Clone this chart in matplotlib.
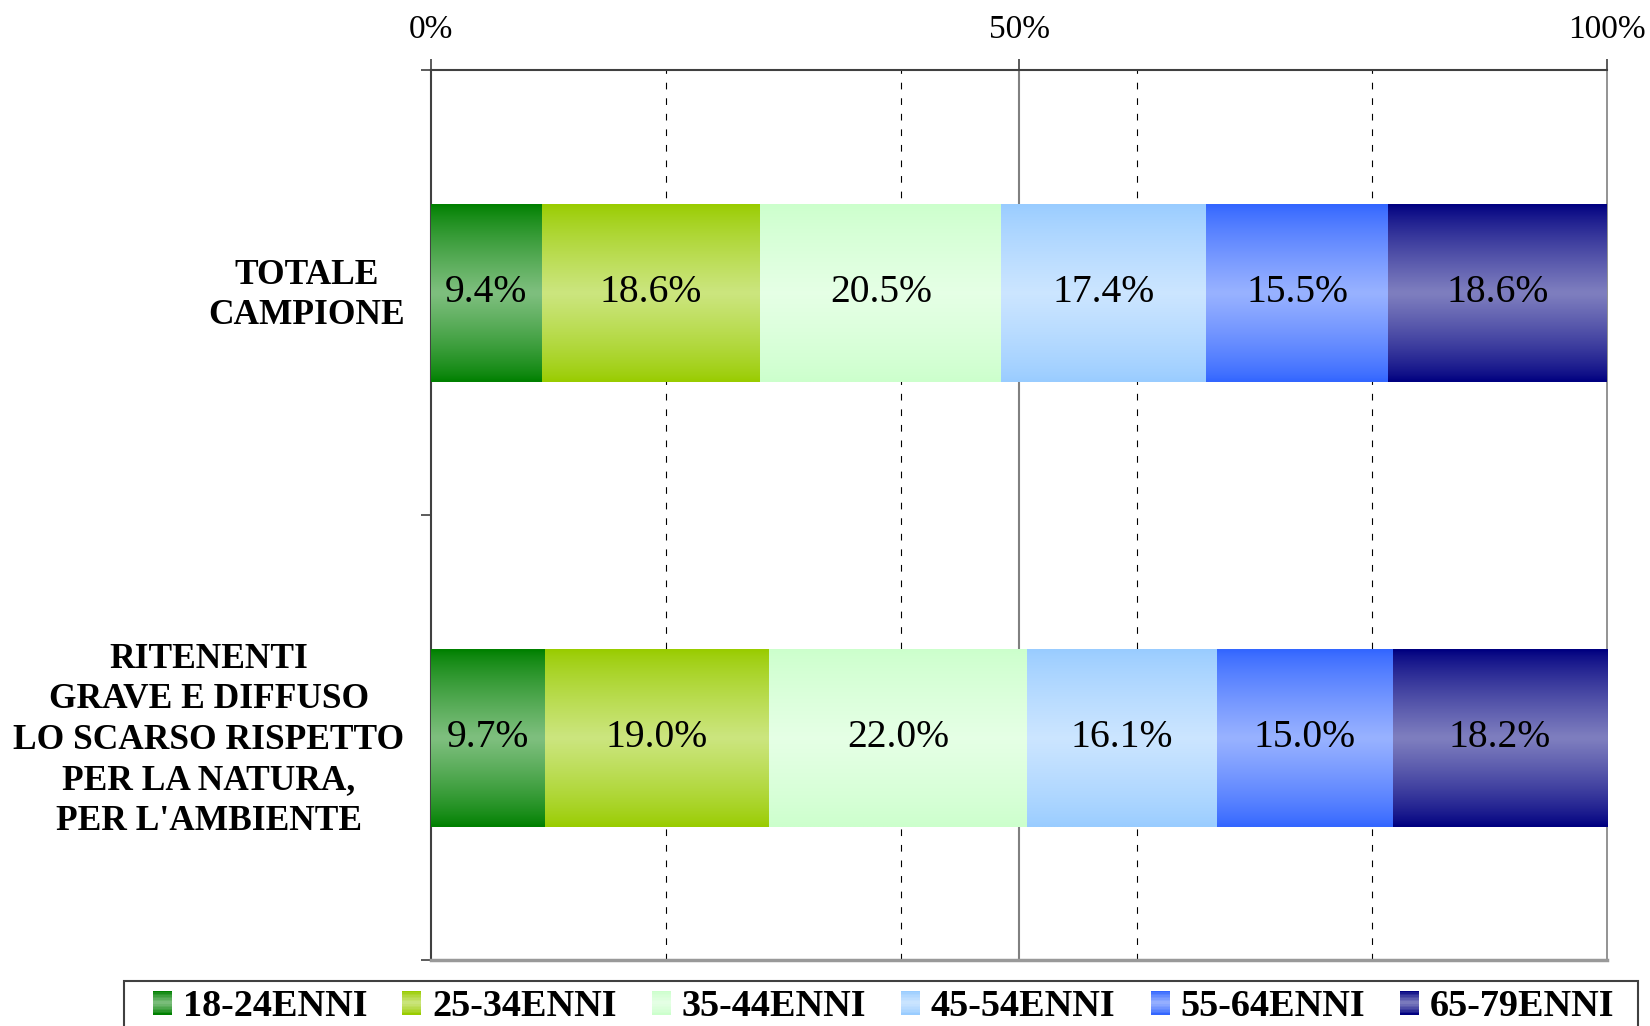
import numpy as np
import matplotlib

matplotlib.use("Agg")
import matplotlib.pyplot as plt
from matplotlib.colors import to_rgb
from matplotlib.legend_handler import HandlerBase
from matplotlib.patches import Rectangle

# --- data -------------------------------------------------------------------
CATEGORIES = [
    "TOTALE\nCAMPIONE",
    "RITENENTI\nGRAVE E DIFFUSO\nLO SCARSO RISPETTO\nPER LA NATURA,\nPER L'AMBIENTE",
]
AGE_GROUPS = ["18-24ENNI", "25-34ENNI", "35-44ENNI", "45-54ENNI", "55-64ENNI", "65-79ENNI"]
SHARE_TOTALE = [9.4, 18.6, 20.5, 17.4, 15.5, 18.6]
SHARE_RITENENTI = [9.7, 19.0, 22.0, 16.1, 15.0, 18.2]
X_TICKS = [0, 50, 100]
X_TICK_LABELS = ["0%", "50%", "100%"]

EDGE_COLORS = ["#008000", "#99CC00", "#CCFFCC", "#99CCFF", "#3366FF", "#000080"]

SERIF = ["Liberation Serif", "DejaVu Serif"]


def mix_white(c, f=0.5):
    c = np.array(to_rgb(c))
    return c + (1.0 - c) * f


def gradient(edge, n=64):
    """Vertical 'centre' gradient: dark at top/bottom, light in the middle."""
    t = np.linspace(0, 1, n)
    m = (1 - np.abs(2 * t - 1)) ** 0.8
    e = np.array(to_rgb(edge))
    c = mix_white(edge)
    return (e[None, :] + (c - e)[None, :] * m[:, None])[:, None, :]


class GradHandler(HandlerBase):
    def __init__(self, edge, n=16):
        super().__init__()
        self.edge = edge
        self.n = n

    def create_artists(self, legend, orig_handle, xdescent, ydescent,
                       width, height, fontsize, trans):
        cols = gradient(self.edge, self.n)[:, 0, :]
        h = height / self.n
        arts = []
        for i, col in enumerate(cols):
            r = Rectangle((-xdescent, -ydescent + i * h), width, h * 1.05,
                          facecolor=col, edgecolor="none", transform=trans)
            arts.append(r)
        return arts


fig = plt.figure(figsize=(16.5, 10.26), dpi=100)
ax = fig.add_axes([0.2612, 0.0643, 0.9740 - 0.2612, 0.9313 - 0.0643])

shares = np.array([SHARE_TOTALE, SHARE_RITENENTI])
ypos = np.arange(len(CATEGORIES))
left = np.zeros(len(CATEGORIES))
handles = []
for j, grp in enumerate(AGE_GROUPS):
    bars = ax.barh(ypos, shares[:, j], left=left, height=0.4,
                   color=EDGE_COLORS[j], edgecolor="none", zorder=2, label=grp)
    for b in bars:
        x0, y0, w, h = b.get_x(), b.get_y(), b.get_width(), b.get_height()
        im = ax.imshow(gradient(EDGE_COLORS[j]), extent=(x0, x0 + w, y0, y0 + h),
                       aspect="auto", interpolation="bilinear", zorder=3)
        im.set_clip_path(b)
    ax.bar_label(bars, labels=[f"{v:.1f}%" for v in shares[:, j]],
                 label_type="center", fontsize=28.5, family=SERIF, color="black",
                 zorder=4)
    handles.append(bars.patches[0])
    left += shares[:, j]

ax.set_xlim(0, 100)
ax.set_ylim(1.5, -0.5)

# x axis on top
ax.xaxis.tick_top()
ax.set_xticks(X_TICKS)
ax.set_xticklabels(X_TICK_LABELS, family=SERIF, fontsize=24)
ax.set_xticks([20, 40, 60, 80], minor=True)
ax.tick_params(axis="x", which="major", direction="out", length=8, width=1.2,
               color="#404040", pad=10)
ax.tick_params(axis="x", which="minor", length=0)
ax.grid(which="minor", axis="x", color="black", linestyle=(0, (6, 8)), lw=0.8, zorder=1)
ax.axvline(50, color="#808080", lw=1.5, zorder=1)

# y axis: labels at centres, tick marks at category boundaries
ax.set_yticks(ypos - 0.012)
ax.set_yticklabels(CATEGORIES, family=SERIF, fontweight="bold", fontsize=25.5)
for lab in ax.get_yticklabels():
    lab.set_multialignment("center")
    lab.set_linespacing(1.3)
ax.set_yticks([-0.5, 0.5, 1.5], minor=True)
ax.tick_params(axis="y", which="major", length=0, pad=19)
ax.tick_params(axis="y", which="minor", direction="out", length=7, width=1.2,
               color="#404040")

ax.spines["left"].set_color("#404040")
ax.spines["left"].set_linewidth(1.5)
ax.spines["top"].set_color("#404040")
ax.spines["top"].set_linewidth(1.5)
ax.spines["right"].set_color("#808080")
ax.spines["right"].set_linewidth(1.2)
ax.spines["bottom"].set_color("#999999")
ax.spines["bottom"].set_linewidth(2.5)

fig.legend(
    handles, AGE_GROUPS,
    handler_map={h: GradHandler(c) for h, c in zip(handles, EDGE_COLORS)},
    loc="upper center", bbox_to_anchor=(0.5355, 0.0441),
    bbox_transform=fig.transFigure, ncol=6, borderaxespad=0,
    prop={"family": SERIF, "weight": "bold", "size": 27.5},
    handlelength=0.5, handleheight=0.58, handletextpad=0.28, columnspacing=0.92,
    borderpad=0.22, frameon=False,
)
# legend frame (runs off the bottom edge, as in the source chart)
fig.patches.append(Rectangle((124 / 1650, -0.02), 1514 / 1650, 0.02 + 45 / 1026,
                             transform=fig.transFigure, fill=False,
                             edgecolor="#404040", lw=1.5))

fig.savefig("out.png", dpi=100)
